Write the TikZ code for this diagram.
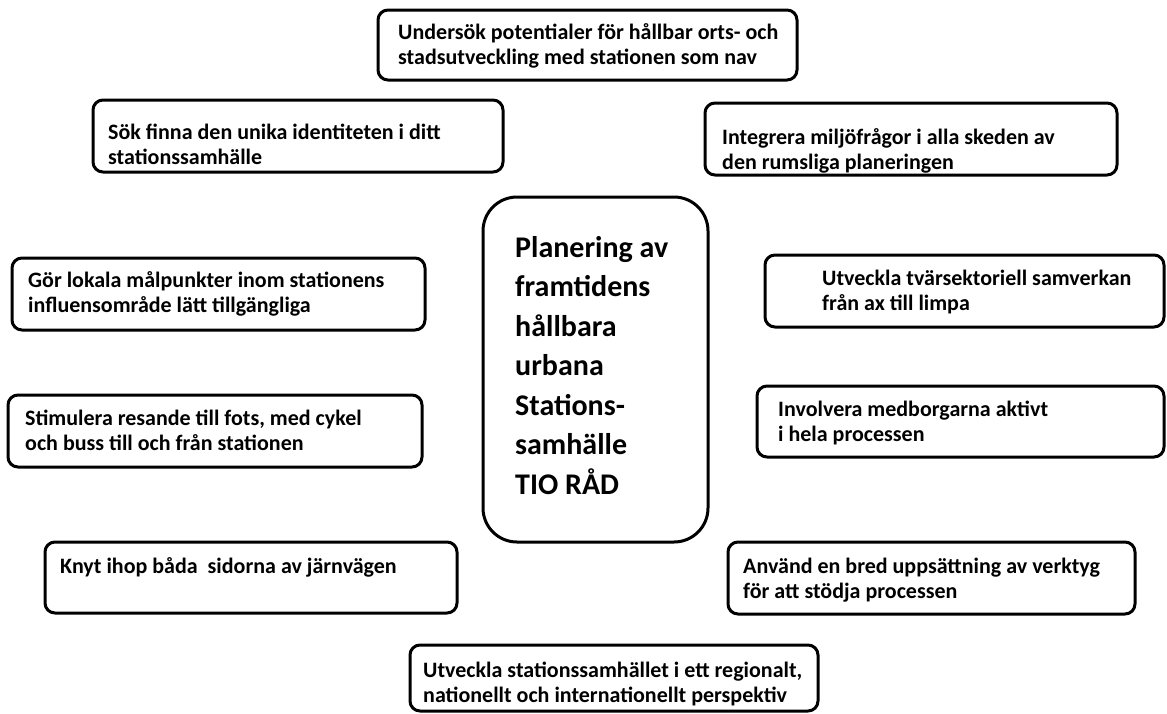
\documentclass[tikz,border=0pt]{standalone}
\usepackage{fontspec}
\setmainfont{Carlito}
\usetikzlibrary{positioning}
\tikzset{rad/.style={draw,line width=3pt,rounded corners=10pt},
  hub/.style={draw,line width=3pt,rounded corners=34pt},
  radtxt/.style={anchor=base west,align=left,inner sep=0pt,
    font=\bfseries\fontsize{22}{24.5}\selectfont},
  hubtxt/.style={anchor=base west,align=left,inner sep=0pt,
    font=\bfseries\fontsize{30}{39.5}\selectfont}}

\begin{document}
\begin{tikzpicture}[x=1pt,y=-1pt]
\useasboundingbox (0,0) rectangle (1167,713);
% the ten boxes round the hub
\foreach \x/\y/\X/\Y in {378/10/797/80,93/100/503/172,705/103/1117/175,
  12/258/425/330,765/255/1164/327,8/395/422/467,757/386/1164/457,
  45/542/457/613,728/542/1135/614,410/645/818/711}{
 \draw[rad] (\x,\y) rectangle (\X,\Y);}
\draw[hub] (483,197) rectangle (708,542);

% text nodes sit on the baseline of their last line
\node[hubtxt] (hub) at (515,494) {Planering av\\framtidens\\hållbara\\urbana\\Stations-\\samhälle\\TIO RÅD};

\node[radtxt] (undersok) at (398,64) {Undersök potentialer för hållbar orts- och\\stadsutveckling med stationen som nav};
\node[radtxt] (identitet) at (108,164) {Sök finna den unika identiteten i ditt\\stationssamhälle};
\node[radtxt] (miljo) at (722,169) {Integrera miljöfrågor i alla skeden av\\den rumsliga planeringen};
\node[radtxt] (malpunkt) at (28,312) {Gör lokala målpunkter inom stationens\\influensområde lätt tillgängliga};
\node[radtxt] (samverkan) at (822,310) {Utveckla tvärsektoriell samverkan\\från ax till limpa};
\node[radtxt] (resande) at (25,450) {Stimulera resande till fots, med cykel\\och buss till och från stationen};
\node[radtxt] (medborg) at (778,441) {Involvera medborgarna aktivt\\i hela processen};
\node[radtxt] (jarnvag) at (60,573) {Knyt ihop båda\ \ sidorna av järnvägen};
\node[radtxt] (verktyg) at (743,598) {Använd en bred uppsättning av verktyg\\för att stödja processen};
\node[radtxt] (region) at (423,702) {Utveckla stationssamhället i ett regionalt,\\nationellt och internationellt perspektiv};
\end{tikzpicture}
\end{document}
